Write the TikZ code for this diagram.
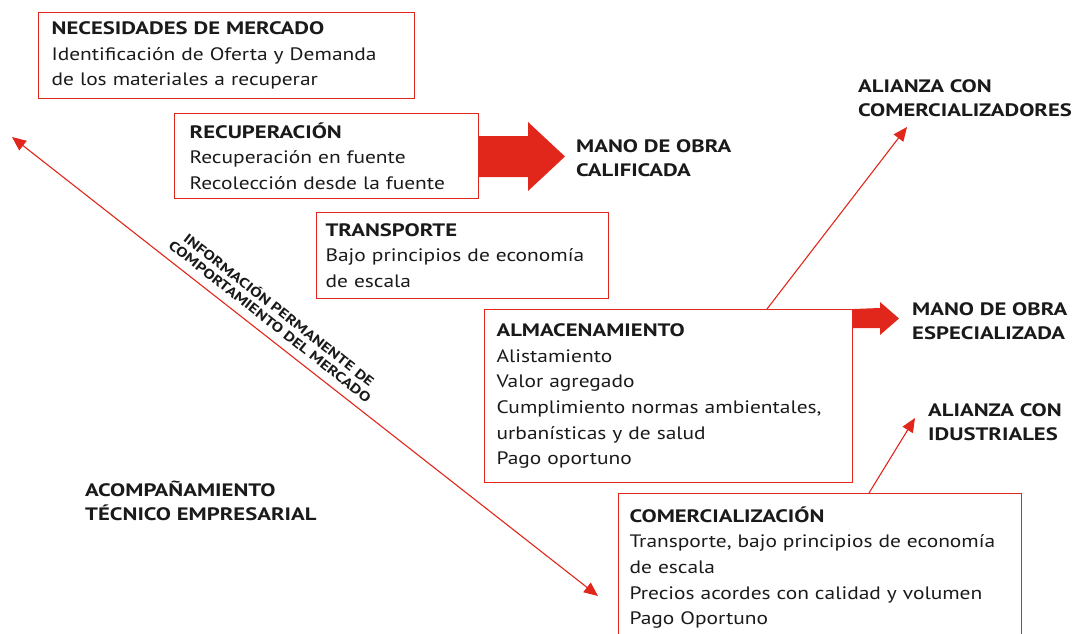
\documentclass[tikz,border=0pt]{standalone}
\usepackage{fontspec}
\setmainfont{PT Sans}[FakeStretch=1.19, BoldFeatures={FakeStretch=1.26}]
\usetikzlibrary{arrows.meta,calc}
\definecolor{dred}{RGB}{225,38,28}
\definecolor{ink}{RGB}{26,26,26}
\newcommand{\bodyfnt}{\fontsize{18}{25.6}\selectfont}
\newcommand{\labfnt}{\fontsize{18}{24.5}\selectfont\bfseries}
\newcommand{\rotfnt}{\fontsize{13.5}{14.5}\selectfont\bfseries}
\tikzset{
  box/.style={draw=dred, line width=1.2pt, align=left, inner ysep=0pt,
    anchor=north west, font=\bodyfnt, text=ink},
  lab/.style={align=left, inner sep=0pt, anchor=west, font=\labfnt, text=ink},
  thin/.style={draw=dred, line width=1.1pt, -{Triangle[length=14pt,width=12pt]}},
  big/.style={fill=dred, draw=none}
}
\begin{document}
\begin{tikzpicture}[x=1pt,y=-1pt]
\useasboundingbox (0,0) rectangle (1074,634);
\node[box, inner xsep=13pt, text width=350pt, minimum height=86pt] (nec) at (38,12)
  {\textbf{NECESIDADES DE MERCADO}\\Identificación de Oferta y Demanda\\de los materiales a recuperar};
\node[box, inner xsep=15pt, text width=274pt, minimum height=85pt] (rec) at (174,113)
  {\textbf{RECUPERACIÓN}\\Recuperación en fuente\\Recolección desde la fuente};
\node[box, inner xsep=9pt, text width=274pt, minimum height=86pt] (tra) at (316,212)
  {\textbf{TRANSPORTE}\\Bajo principios de economía\\de escala};
\node[box, inner xsep=12pt, text width=344pt, minimum height=173pt] (alm) at (484,309)
  {\textbf{ALMACENAMIENTO}\\Alistamiento\\Valor agregado\\Cumplimiento normas ambientales,\\urbanísticas y de salud\\Pago oportuno};
\node[box, inner xsep=11pt, text width=381pt, minimum height=148pt] (com) at (618,493)
  {\textbf{COMERCIALIZACIÓN}\\Transporte, bajo principios de economía\\de escala\\Precios acordes con calidad y volumen\\Pago Oportuno};

\node[lab] (mcal) at (576,158) {MANO DE OBRA\\CALIFICADA};
\node[lab] (acom) at (858,98) {ALIANZA CON\\COMERCIALIZADORES};
\node[lab] (mesp) at (912,321) {MANO DE OBRA\\ESPECIALIZADA};
\node[lab] (aind) at (928,422) {ALIANZA CON\\IDUSTRIALES};
\node[lab] (acomp) at (85,501) {ACOMPAÑAMIENTO\\TÉCNICO EMPRESARIAL};

% big arrows
\fill[big] (rec.east |- 0,136) -- (528,136) -- (528,122) -- (565,156.5) -- (528,191) -- (528,177) -- (rec.east |- 0,177) -- cycle;
\fill[big] (alm.north east) -- (880,308) -- (880,302) -- (899,318.5) -- (880,335) -- (880,328) -- (alm.north east |- 0,328) -- cycle;

% thin arrows
\coordinate (t1) at (907,127);
\coordinate (t2) at (915,418);
\coordinate (ea) at (12,137);
\coordinate (eb) at (598,596);
\draw[thin] ($(alm.north west)+(283,0)$) -- (t1);
\draw[thin] ($(com.north west)+(251,0)$) -- (t2);
\draw[thin, {Triangle[length=14pt,width=12pt]}-{Triangle[length=14pt,width=12pt]}] (ea) -- (eb);

\node[rotate=-38.2, align=center, inner sep=0pt, font=\rotfnt, text=ink] (info) at (275,315)
  {INFORMACIÓN PERMANENTE DE\\COMPORTAMIENTO DEL MERCADO};
\end{tikzpicture}
\end{document}
